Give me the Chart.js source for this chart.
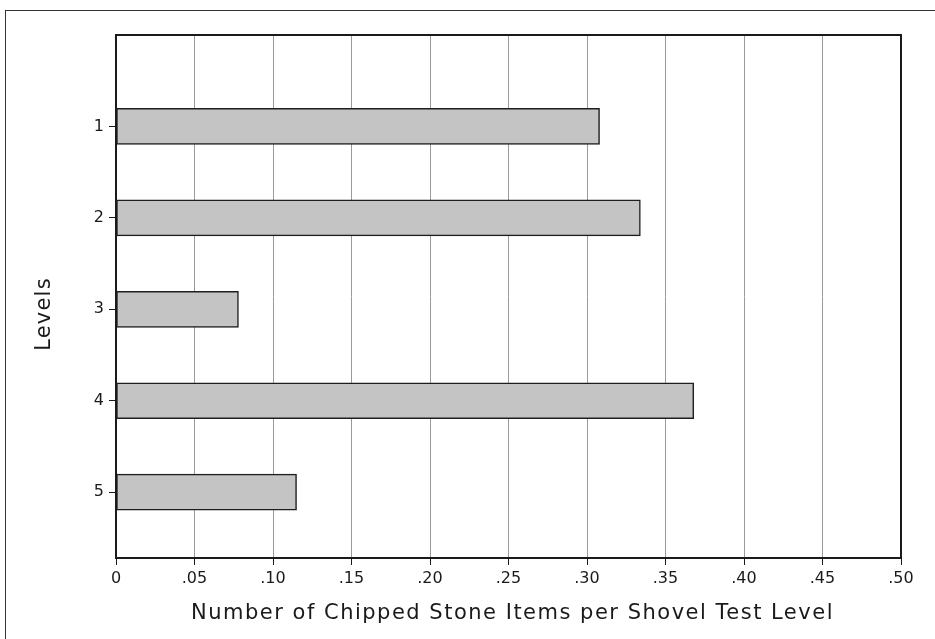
<!DOCTYPE html>
<html>
<head>
<meta charset="utf-8">
<script src="https://cdn.jsdelivr.net/npm/chart.js@4/dist/chart.umd.min.js"></script>
<style>
  html, body { margin: 0; padding: 0; background: #fff; overflow: hidden; }
  #wrap { position: relative; width: 935px; height: 639px; }
  #frame { position: absolute; left: 5px; top: 10px; width: 960px; height: 660px; border: 1px solid #333; box-sizing: border-box; }
  canvas { position: absolute; left: 0; top: 0; }
</style>
</head>
<body>
<div id="wrap">
  <div id="frame"></div>
  <canvas id="c" width="935" height="639"></canvas>
</div>
<script>
const levels = ['1', '2', '3', '4', '5'];
const levelPositions = [1, 2, 3, 4, 5];
const itemsPerLevel = [0.308, 0.334, 0.078, 0.368, 0.115];
const xTickLabels = ['0', '.05', '.10', '.15', '.20', '.25', '.30', '.35', '.40', '.45', '.50'];
const xTitle = 'Number of Chipped Stone Items per Shovel Test Level';
const yTitle = 'Levels';

const FONT = '"DejaVu Sans", sans-serif';

const framePlugin = {
  id: 'framePlugin',
  afterDraw(chart) {
    const { ctx, chartArea: a } = chart;
    ctx.save();
    ctx.strokeStyle = '#1a1a1a';
    ctx.lineWidth = 2;
    ctx.strokeRect(a.left, a.top, a.right - a.left, a.bottom - a.top);
    // axis titles
    ctx.fillStyle = '#1a1a1a';
    ctx.textAlign = 'center';
    ctx.textBaseline = 'middle';
    ctx.font = '21px ' + FONT;
    ctx.letterSpacing = '1.5px';
    ctx.fillText(xTitle, (a.left + a.right) / 2 + 4, 614);
    ctx.translate(45, 314);
    ctx.rotate(-Math.PI / 2);
    ctx.font = '21px ' + FONT;
    ctx.letterSpacing = '1.2px';
    ctx.fillText(yTitle, 0, 0);
    ctx.restore();
  }
};

new Chart(document.getElementById('c'), {
  type: 'bar',
  data: {
    datasets: [{
      data: levelPositions.map((p, i) => ({ x: itemsPerLevel[i], y: p })),
      backgroundColor: '#c4c4c4',
      borderColor: '#1e1e1e',
      borderWidth: 1.5,
      borderSkipped: false,
      barThickness: 36
    }]
  },
  options: {
    indexAxis: 'y',
    responsive: false,
    animation: false,
    layout: { padding: { left: 0, top: 35, right: 34, bottom: 0 } },
    plugins: { legend: { display: false }, tooltip: { enabled: false } },
    scales: {
      x: {
        type: 'linear',
        min: 0, max: 0.5,
        offset: false,
        afterBuildTicks(scale) {
          scale.ticks = xTickLabels.map((_, i) => ({ value: i * 0.05 }));
        },
        afterFit(scale) { scale.height = 81; },
        ticks: {
          color: '#1a1a1a',
          font: { family: FONT, size: 16 },
          padding: 4,
          maxRotation: 0,
          autoSkip: false,
          callback: (v, i) => xTickLabels[i]
        },
        grid: { color: '#9a9a9a', lineWidth: 1, tickColor: '#1a1a1a', tickLength: 7, drawOnChartArea: true, offset: false },
        border: { display: false }
      },
      y: {
        type: 'linear',
        reverse: true,
        offset: false,
        min: 0, max: 5.72,
        afterBuildTicks(scale) {
          scale.ticks = levelPositions.map(v => ({ value: v }));
        },
        afterFit(scale) { scale.width = 116; },
        ticks: {
          color: '#1a1a1a',
          font: { family: FONT, size: 16 },
          padding: 5,
          autoSkip: false,
          callback: (v, i) => levels[i]
        },
        grid: { drawOnChartArea: false, tickColor: '#1a1a1a', tickLength: 7, offset: false },
        border: { display: false }
      }
    }
  },
  plugins: [framePlugin]
});
</script>
</body>
</html>
